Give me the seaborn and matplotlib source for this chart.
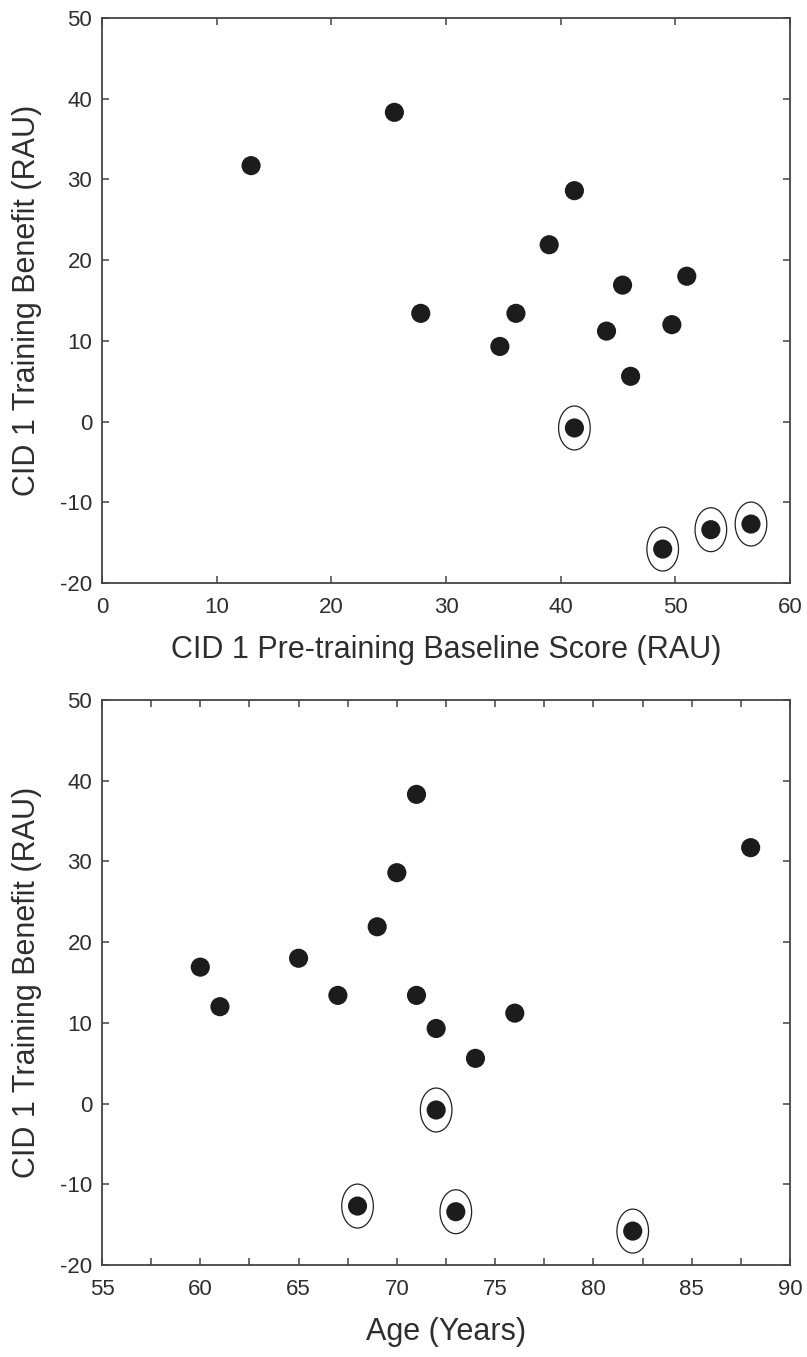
import numpy as np
import pandas as pd
import matplotlib
matplotlib.use("Agg")
from matplotlib import pyplot as plt
from matplotlib.path import Path
from matplotlib.ticker import MultipleLocator
import seaborn as sns

# values
baseline = [13.0, 25.5, 27.8, 34.7, 36.1, 39.0, 41.2, 45.4, 44.0, 49.7,
            51.0, 46.1, 41.2, 48.9, 53.1, 56.6]
age = [88, 71, 67, 72, 71, 69, 70, 60, 76, 61, 65, 74, 72, 82, 73, 68]
benefit = [31.7, 38.3, 13.4, 9.3, 13.4, 21.9, 28.6, 16.9, 11.2, 12.0,
           18.0, 5.6, -0.8, -15.8, -13.4, -12.7]
circled = [False] * 12 + [True] * 4

df = pd.DataFrame({"baseline": baseline, "age": age,
                   "benefit": benefit, "circled": circled})

sns.set_style("ticks")
plt.rcParams["font.family"] = ["Liberation Sans", "DejaVu Sans"]
plt.rcParams["axes.unicode_minus"] = False

# open ellipse used to mark the circled points
t = np.linspace(0, 2 * np.pi, 80)
ellipse = Path(np.column_stack([0.72 * np.cos(t), np.sin(t)]))

axis_col = "#444444"
text_col = "#2e2e2e"

fig = plt.figure(figsize=(8.07, 13.57), dpi=100)
ax1 = fig.add_axes([0.1264, 0.5704, 0.8525, 0.4164])
ax2 = fig.add_axes([0.1264, 0.0678, 0.8525, 0.4164])


def draw(ax, xcol, xlabel, xlim, major, minor):
    sns.scatterplot(data=df, x=xcol, y="benefit", ax=ax, color="#1c1c1c",
                    s=190, edgecolor="none", legend=False, zorder=3)
    sub = df[df["circled"]]
    sns.scatterplot(data=sub, x=xcol, y="benefit", ax=ax, marker=ellipse,
                    s=1000, facecolor="none", edgecolor="#222222",
                    linewidth=0.9, legend=False, zorder=2)
    ax.set_xlim(*xlim)
    ax.set_ylim(-20, 50)
    ax.xaxis.set_major_locator(MultipleLocator(major))
    if minor:
        ax.xaxis.set_minor_locator(MultipleLocator(minor))
    ax.yaxis.set_major_locator(MultipleLocator(10))
    ax.tick_params(which="both", direction="in", top=True, right=True,
                   length=5, width=1.1, color=axis_col,
                   labelsize=16, labelcolor=text_col)
    ax.tick_params(axis="x", which="both", pad=10)
    ax.tick_params(axis="y", which="both", pad=7)
    for sp in ax.spines.values():
        sp.set_visible(True)
        sp.set_color(axis_col)
        sp.set_linewidth(1.3)
    ax.set_xlabel(xlabel, fontsize=22, color=text_col, labelpad=12)
    ax.set_ylabel("CID 1 Training Benefit (RAU)", fontsize=22,
                  color=text_col, labelpad=13)


draw(ax1, "baseline", "CID 1 Pre-training Baseline Score (RAU)", (0, 60), 10, None)
draw(ax2, "age", "Age (Years)", (55, 90), 5, 2.5)

fig.savefig("out.png", dpi=100)
